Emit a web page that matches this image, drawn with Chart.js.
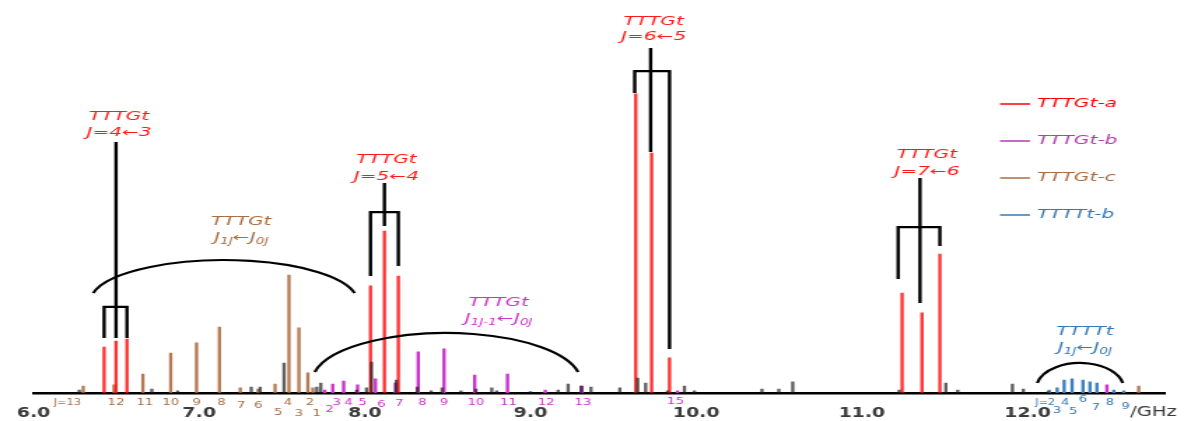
<!DOCTYPE html>
<html>
<head>
<meta charset="utf-8">
<script src="https://cdn.jsdelivr.net/npm/chart.js@4"></script>
<style>
html,body{margin:0;padding:0;background:#fff;overflow:hidden}
</style>
</head>
<body>
<canvas id="c" width="846" height="421" style="display:block;width:1184px;height:421px"></canvas>
<script>
// frequencies in GHz, intensities in arbitrary units (strongest line ~100)
const ticksGHz = [6, 7, 8, 9, 10, 11, 12];

const aFreq = [6.426, 6.498, 6.564, 8.034, 8.118, 8.202, 9.635, 9.731, 9.839, 11.243, 11.363, 11.471];
const aInt  = [15.3, 17.3, 18.0, 35.7, 54.0, 39.0, 99.7, 80.0, 11.7, 33.3, 26.7, 46.3];

const bFreq = [7.758, 7.806, 7.872, 7.956, 8.064, 8.184, 8.322, 8.478, 8.663, 8.861, 9.089, 9.311, 9.887, 12.479];
const bInt  = [1.0, 3.0, 4.0, 2.7, 4.7, 3.3, 13.7, 14.7, 6.0, 6.3, 1.0, 2.3, 0.7, 2.7];

const cFreq = [6.300, 6.486, 6.660, 6.828, 6.984, 7.122, 7.248, 7.356, 7.458, 7.542, 7.602, 7.656, 7.686, 12.671];
const cInt  = [2.3, 2.7, 6.3, 13.3, 16.7, 22.0, 1.7, 1.3, 3.0, 39.3, 21.7, 6.7, 1.7, 2.3];

const tFreq = [12.131, 12.179, 12.221, 12.269, 12.335, 12.377, 12.419, 12.521, 12.581];
const tInt  = [1.0, 1.7, 4.3, 4.7, 4.3, 3.7, 3.3, 1.0, 0.7];

const otherFreq = [6.276, 6.714, 6.870, 7.314, 7.368, 7.512, 7.710, 7.734, 7.950, 8.010, 8.040, 8.190, 8.316, 8.400,
  8.466, 8.580, 8.670, 8.766, 8.796, 8.999, 9.167, 9.227, 9.305, 9.365, 9.539, 9.647, 9.695, 9.827, 9.929, 9.989,
  10.397, 10.499, 10.583, 11.225, 11.507, 11.579, 11.909, 11.975, 12.125];
const otherInt = [1.0, 1.3, 0.7, 2.0, 2.0, 10.0, 2.0, 3.3, 1.0, 1.7, 10.3, 4.3, 2.0, 0.7,
  1.7, 0.7, 1.3, 1.7, 0.7, 0.5, 1.0, 3.0, 2.3, 2.0, 1.7, 5.0, 3.3, 0.7, 2.3, 0.7,
  1.3, 1.3, 3.7, 1.0, 3.3, 1.0, 3.0, 1.3, 0.5];

// J labels under the axis
const cJText = ['J=13', '12', '11', '10', '9', '8', '7', '6', '5', '4', '3', '2', '1'];
const cJFreq = [6.204, 6.498, 6.672, 6.828, 6.984, 7.134, 7.254, 7.356, 7.476, 7.536, 7.602, 7.668, 7.710];
const bJText = ['2', '3', '4', '5', '6', '7', '8', '9', '10', '11', '12', '13', '15'];
const bJFreq = [7.788, 7.830, 7.902, 7.986, 8.100, 8.208, 8.346, 8.478, 8.670, 8.867, 9.095, 9.317, 9.875];
const tJText = ['J=2', '3', '4', '5', '6', '7', '8', '9'];
const tJFreq = [12.107, 12.179, 12.227, 12.275, 12.335, 12.413, 12.497, 12.593];

const S = 1184 / 846;   // the figure is stretched sideways
const FONT = '"DejaVu Sans"';
const RED = '#ff1a1a', MAG = '#cc33cc', BRN = '#a86c40', BLU = '#3378b8';

function bars(fr, it) { return fr.map((f, i) => ({x: f, y: it[i]})); }

function txt(ctx, s, x, y, color, size, italic, sx, align) {
  ctx.save();
  ctx.translate(x, y);
  ctx.scale(sx || 1, 1);
  ctx.font = (italic ? 'italic ' : '') + size + 'px ' + FONT;
  ctx.fillStyle = color;
  ctx.textAlign = align || 'center';
  ctx.textBaseline = 'middle';
  ctx.fillText(s, 0, 0);
  ctx.restore();
}

function rich(ctx, segs, cx, cy, color, size, sx) {
  ctx.save();
  ctx.translate(cx, cy);
  ctx.scale(sx, 1);
  ctx.fillStyle = color;
  ctx.textBaseline = 'middle';
  ctx.textAlign = 'left';
  const fonts = segs.map(s => 'italic ' + (s.sub ? size * 0.68 : size) + 'px ' + FONT);
  let w = 0;
  const ws = segs.map((s, i) => { ctx.font = fonts[i]; const m = ctx.measureText(s.t).width; w += m; return m; });
  let x = -w / 2;
  segs.forEach((s, i) => {
    ctx.font = fonts[i];
    ctx.fillText(s.t, x, s.sub ? size * 0.3 : 0);
    x += ws[i];
  });
  ctx.restore();
}

// bracket: stem x, stem top, stem bottom, bar level, legs [x, bottom]
const brackets = [
  {stem: 6.498, top: 83.7, bot: 18.3, bar: 28.7, legs: [[6.426, 18.3], [6.564, 18.3]], label: 'J=4←3', ly: [92, 86.6], lx: 6.516},
  {stem: 8.118, top: 70.0, bot: 55.7, bar: 60.3, legs: [[8.034, 39.0], [8.202, 42.3]], label: 'J=5←4', ly: [77.7, 72.2], lx: 8.130},
  {stem: 9.725, top: 115.0, bot: 80.3, bar: 107.3, legs: [[9.629, 100.0], [9.839, 14.7]], label: 'J=6←5', ly: [123.7, 118.6], lx: 9.743},
  {stem: 11.351, top: 71.7, bot: 30.0, bar: 55.3, legs: [[11.219, 38.0], [11.471, 49.0]], label: 'J=7←6', ly: [79.3, 73.6], lx: 11.393}
];

const arcs = [
  {x1: 6.360, x2: 7.938, yEnd: 33.3, yTop: 44.3, color: BRN, title: 'TTTGt', lx: 7.254, ly: [57, 51.6],
   segs: [{t: 'J'}, {t: '1J', sub: true}, {t: '←'}, {t: 'J'}, {t: '0J', sub: true}]},
  {x1: 7.698, x2: 9.287, yEnd: 7.0, yTop: 20.0, color: MAG, title: 'TTTGt', lx: 8.807, ly: [30, 24.6],
   segs: [{t: 'J'}, {t: '1J-1', sub: true}, {t: '←'}, {t: 'J'}, {t: '0J', sub: true}]},
  {x1: 12.059, x2: 12.575, yEnd: 3.3, yTop: 10.0, color: BLU, title: 'TTTTt', lx: 12.347, ly: [20.3, 15],
   segs: [{t: 'J'}, {t: '1J', sub: true}, {t: '←'}, {t: 'J'}, {t: '0J', sub: true}]}
];

const annotate = {
  id: 'annotate',
  afterDatasetsDraw(chart) {
    const ctx = chart.ctx, xs = chart.scales.x, ys = chart.scales.y;
    const px = v => xs.getPixelForValue(v), py = v => ys.getPixelForValue(v);
    ctx.save();
    ctx.strokeStyle = '#000';
    ctx.lineWidth = 2.4;
    brackets.forEach(b => {
      ctx.beginPath();
      ctx.moveTo(px(b.stem), py(b.top));
      ctx.lineTo(px(b.stem), py(b.bot));
      ctx.moveTo(px(b.legs[0][0]), py(b.legs[0][1]));
      ctx.lineTo(px(b.legs[0][0]), py(b.bar));
      ctx.lineTo(px(b.legs[1][0]), py(b.bar));
      ctx.lineTo(px(b.legs[1][0]), py(b.legs[1][1]));
      ctx.stroke();
      txt(ctx, 'TTTGt', px(b.lx), py(b.ly[0]), RED, 12, true, 1.2);
      txt(ctx, b.label, px(b.lx), py(b.ly[1]), RED, 12, true, 1.2);
    });
    ctx.lineWidth = 2.2;
    arcs.forEach(a => {
      const x1 = px(a.x1), x2 = px(a.x2), ye = py(a.yEnd), yt = py(a.yTop);
      const d = (ye - yt) * 0.25, ry = ye + d - yt, hw = (x2 - x1) / 2;
      const t0 = Math.asin(d / ry), rx = hw / Math.cos(t0);
      ctx.beginPath();
      ctx.ellipse((x1 + x2) / 2, ye + d, rx, ry, 0, Math.PI + t0, 2 * Math.PI - t0);
      ctx.stroke();
      txt(ctx, a.title, px(a.lx), py(a.ly[0]), a.color, 12, true, 1.2);
      rich(ctx, a.segs, px(a.lx), py(a.ly[1]), a.color, 12, 1.2);
    });
    // J numbers under the axis
    const cRow = [403, 403, 403, 403, 403, 403, 406, 406, 413, 403, 414, 403, 414];
    cJText.forEach((t, i) => txt(ctx, t, px(cJFreq[i]), cRow[i], BRN, i === 0 ? 8 : 9.5, false, 1));
    const bRow = [410, 403, 403, 403, 405, 404, 403, 403, 403, 403, 403, 403, 402];
    bJText.forEach((t, i) => txt(ctx, t, px(bJFreq[i]), bRow[i], MAG, 9.5, false, 1));
    const tRow = [403, 411, 403, 412, 400, 408, 403, 407];
    tJText.forEach((t, i) => txt(ctx, t, px(tJFreq[i]), tRow[i], BLU, i === 0 ? 8 : 9.5, false, 1));
    txt(ctx, '/GHz', 1130 / S, 412, '#3a3a3a', 14, false, 1, 'left');
    // legend
    chart.data.datasets.slice(1).forEach((ds, i) => {
      const y = 104 + i * 37;
      ctx.strokeStyle = ds.legendColor;
      ctx.lineWidth = 1.5;
      ctx.beginPath();
      ctx.moveTo(1000 / S, y);
      ctx.lineTo(1030 / S, y);
      ctx.stroke();
      txt(ctx, ds.label, 1037 / S, y, ds.legendColor, 12, true, 1.2, 'left');
    });
    ctx.restore();
  }
};

new Chart(document.getElementById('c'), {
  type: 'bar',
  data: {
    datasets: [
      {label: 'other', data: bars(otherFreq, otherInt), backgroundColor: 'rgba(30,30,30,0.7)'},
      {label: 'TTTGt-a', data: bars(aFreq, aInt), backgroundColor: 'rgba(255,0,0,0.8)', legendColor: '#ff0000'},
      {label: 'TTTGt-b', data: bars(bFreq, bInt), backgroundColor: '#cc33cc', legendColor: '#b03cb0'},
      {label: 'TTTGt-c', data: bars(cFreq, cInt), backgroundColor: 'rgba(168,100,56,0.85)', legendColor: '#a86c40'},
      {label: 'TTTTt-b', data: bars(tFreq, tInt), backgroundColor: '#3d80c0', legendColor: '#3378b8'}
    ]
  },
  options: {
    responsive: false,
    animation: false,
    devicePixelRatio: 1,
    datasets: {bar: {barThickness: 1.7, grouped: false, borderWidth: 0}},
    layout: {padding: {left: 27 / S, right: 1184 / S - 1165 / S, top: 3, bottom: 0}},
    plugins: {legend: {display: false}, tooltip: {enabled: false}},
    scales: {
      x: {
        type: 'linear', min: 6, max: 12.83, offset: false,
        grid: {display: false, drawTicks: false, offset: false},
        border: {display: true, color: '#000', width: 2.5},
        ticks: {padding: 12, color: '#3a3a3a', font: {family: 'DejaVu Sans', size: 13.5, weight: 'bold'}, callback: v => v.toFixed(1)},
        afterBuildTicks: s => { s.ticks = ticksGHz.map(v => ({value: v})); },
        afterFit: s => { s.height = 28; }
      },
      y: {display: false, min: 0, max: 130}
    }
  },
  plugins: [annotate]
});
</script>
</body>
</html>
